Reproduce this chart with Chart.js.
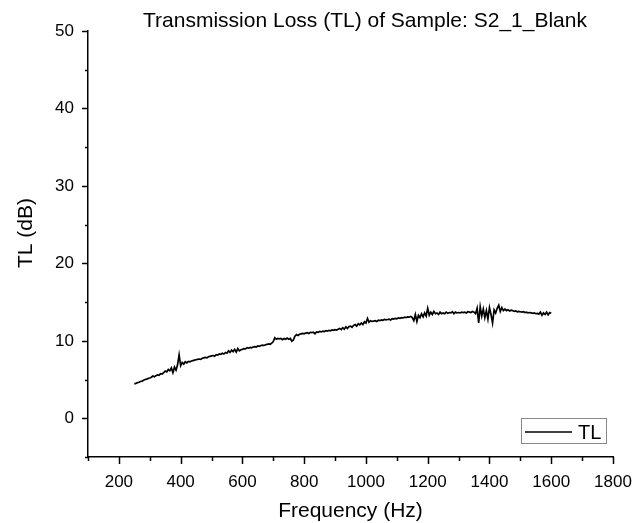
<!DOCTYPE html>
<html>
<head>
<meta charset="utf-8">
<script src="https://cdn.jsdelivr.net/npm/chart.js@4"></script>
<style>
    html, body { margin: 0; padding: 0; background: #fff; }
    #wrap { width: 634px; height: 523px; }
</style>
</head>
<body>
<div id="wrap"><canvas id="tlChart"></canvas></div>
<script>
// Data, one value every 5 Hz starting at 250 Hz
const freqStart = 250;
const freqStep = 5;
const tlValues = [
    4.45, 4.5, 4.6, 4.65, 4.75, 4.8, 4.9, 5.0, 5.05, 5.15,
    5.2, 5.3, 5.45, 5.35, 5.5, 5.6, 5.55, 5.75, 5.7, 5.9,
    6.1, 6.0, 6.3, 6.15, 6.5, 5.9, 6.6, 6.2, 6.9, 8.2,
    6.8, 7.2, 7.0, 7.3, 7.15, 7.35, 7.3, 7.4, 7.45, 7.5,
    7.55, 7.6, 7.65, 7.6, 7.75, 7.8, 7.85, 7.8, 7.95, 8.0,
    8.05, 8.1, 8.0, 8.2, 8.15, 8.3, 8.25, 8.4, 8.3, 8.5,
    8.4, 8.7, 8.5, 8.8, 8.6, 8.9, 8.55, 9.0, 8.7, 8.85,
    8.9, 9.0, 8.95, 9.1, 9.05, 9.15, 9.1, 9.2, 9.25, 9.2,
    9.35, 9.3, 9.4, 9.45, 9.4, 9.5, 9.55, 9.6, 9.55, 9.7,
    9.9, 10.4, 10.2, 10.3, 10.25, 10.3, 10.15, 10.3, 10.2, 10.35,
    10.2, 10.3, 9.95, 10.1, 10.6, 10.8, 10.7, 10.85, 10.9, 10.95,
    10.9, 11.0, 11.05, 10.95, 11.1, 11.05, 11.1, 10.9, 11.15, 11.1,
    11.2, 11.15, 11.25, 11.2, 11.3, 11.25, 11.35, 11.3, 11.4, 11.35,
    11.45, 11.4, 11.5, 11.6, 11.45, 11.7, 11.5, 11.8, 11.6, 11.85,
    11.9, 11.75, 12.0, 12.1, 11.9, 12.2, 12.05, 12.3, 12.1, 12.45,
    12.3, 12.9, 12.4, 12.6, 12.5, 12.55, 12.6, 12.5, 12.65, 12.6,
    12.7, 12.65, 12.75, 12.7, 12.75, 12.8, 12.7, 12.85, 12.8, 12.9,
    12.85, 12.95, 12.9, 13.0, 12.95, 13.05, 13.0, 13.1, 13.05, 13.15,
    13.0, 12.6, 13.4, 12.5, 13.3, 13.0, 13.5, 13.1, 13.6, 13.2,
    14.2, 13.3, 13.7, 13.4, 13.8, 13.5, 13.6, 13.4, 13.7, 13.5,
    13.6, 13.5, 13.7, 13.55, 13.65, 13.6, 13.75, 13.5, 13.7, 13.6,
    13.65, 13.6, 13.7, 13.65, 13.7, 13.6, 13.75, 13.7, 13.65, 13.8,
    13.7, 13.5, 14.2, 12.3, 14.4, 13.2, 14.1, 13.0, 13.9, 12.8,
    14.3, 13.4, 12.3, 14.0, 13.6, 14.2, 14.6, 13.8, 14.3, 13.9,
    14.1, 13.9, 14.0, 13.85, 13.95, 13.9, 13.8, 13.85, 13.75, 13.8,
    13.75, 13.7, 13.75, 13.65, 13.7, 13.6, 13.65, 13.6, 13.55, 13.6,
    13.5, 13.55, 13.45, 13.7, 13.3, 13.6, 13.4, 13.7, 13.35, 13.65,
    13.55,
];

// Axis ticks
const xTickLabels = [200, 400, 600, 800, 1000, 1200, 1400, 1600, 1800];
const yTickLabels = [0, 10, 20, 30, 40, 50];

const FONT = "'Liberation Sans', Arial, sans-serif";

const points = tlValues.map((v, i) => ({ x: freqStart + i * freqStep, y: v }));

// Extras drawn on top: tick marks, titles, legend box
const originPlugin = {
    id: "originStyle",
    afterDraw(chart) {
        const ctx = chart.ctx;
        const xs = chart.scales.x;
        const ys = chart.scales.y;
        const area = chart.chartArea;
        ctx.save();
        ctx.strokeStyle = "#000";
        ctx.lineWidth = 1.5;

        // x ticks (outward)
        for (let v = 100; v <= 1800; v += 100) {
            const px = Math.round(xs.getPixelForValue(v)) + 0.5;
            const len = xTickLabels.includes(v) ? 7 : 4;
            ctx.beginPath();
            ctx.moveTo(px, area.bottom);
            ctx.lineTo(px, area.bottom + len);
            ctx.stroke();
        }
        // y ticks (outward)
        for (let v = -5; v <= 50; v += 5) {
            const py = Math.round(ys.getPixelForValue(v)) + 0.5;
            const len = yTickLabels.includes(v) ? 6 : 3;
            ctx.beginPath();
            ctx.moveTo(area.left, py);
            ctx.lineTo(area.left - len, py);
            ctx.stroke();
        }

        ctx.fillStyle = "#000";
        // chart title
        ctx.font = "21px " + FONT;
        ctx.textAlign = "center";
        ctx.textBaseline = "alphabetic";
        ctx.fillText("Transmission Loss (TL) of Sample: S2_1_Blank", 365, 27);

        // x axis title
        ctx.font = "21px " + FONT;
        ctx.fillText("Frequency (Hz)", (area.left + area.right) / 2, 517);

        // y axis title
        ctx.save();
        ctx.translate(32, 233);
        ctx.rotate(-Math.PI / 2);
        ctx.fillText("TL (dB)", 0, 0);
        ctx.restore();

        // legend
        ctx.strokeStyle = "#888";
        ctx.lineWidth = 1;
        ctx.strokeRect(521.5, 418.5, 85, 25);
        ctx.strokeStyle = "#000";
        ctx.lineWidth = 1.5;
        ctx.beginPath();
        ctx.moveTo(525, 432);
        ctx.lineTo(572, 432);
        ctx.stroke();
        ctx.font = "20px " + FONT;
        ctx.textAlign = "left";
        ctx.fillText(chart.data.datasets[0].label, 578, 439);
        ctx.restore();
    },
};

const ctx = document.getElementById("tlChart").getContext("2d");
const tlChart = new Chart(ctx, {
    type: "line",
    data: {
        datasets: [
            {
                label: "TL",
                data: points,
                borderColor: "#000",
                borderWidth: 1.7,
                pointRadius: 0,
                tension: 0,
                fill: false,
            },
        ],
    },
    options: {
        responsive: true,
        maintainAspectRatio: false,
        animation: false,
        layout: {
            padding: { top: 31, right: 21, left: 0, bottom: 0 },
        },
        plugins: {
            legend: { display: false },
            title: { display: false },
            tooltip: { enabled: false },
        },
        scales: {
            x: {
                type: "linear",
                min: 100,
                max: 1800,
                grid: { display: false, drawTicks: false },
                border: { display: true, color: "#000", width: 1.5 },
                ticks: {
                    stepSize: 100,
                    autoSkip: false,
                    maxRotation: 0,
                    minRotation: 0,
                    padding: 15,
                    color: "#000",
                    font: { family: FONT, size: 17 },
                    callback: (value) => (xTickLabels.includes(value) ? String(value) : ""),
                },
                afterFit: (scale) => {
                    scale.height = 66;
                    scale.paddingLeft = 0;
                    scale.paddingRight = 0;
                },
            },
            y: {
                min: -5,
                max: 50,
                grid: { display: false, drawTicks: false },
                border: { display: true, color: "#000", width: 1.5 },
                ticks: {
                    stepSize: 5,
                    autoSkip: false,
                    padding: 14,
                    color: "#000",
                    font: { family: FONT, size: 17 },
                    callback: (value) => (yTickLabels.includes(value) ? String(value) : ""),
                },
                afterFit: (scale) => {
                    scale.width = 88;
                    scale.paddingTop = 0;
                    scale.paddingBottom = 0;
                },
            },
        },
    },
    plugins: [originPlugin],
});
</script>
</body>
</html>
